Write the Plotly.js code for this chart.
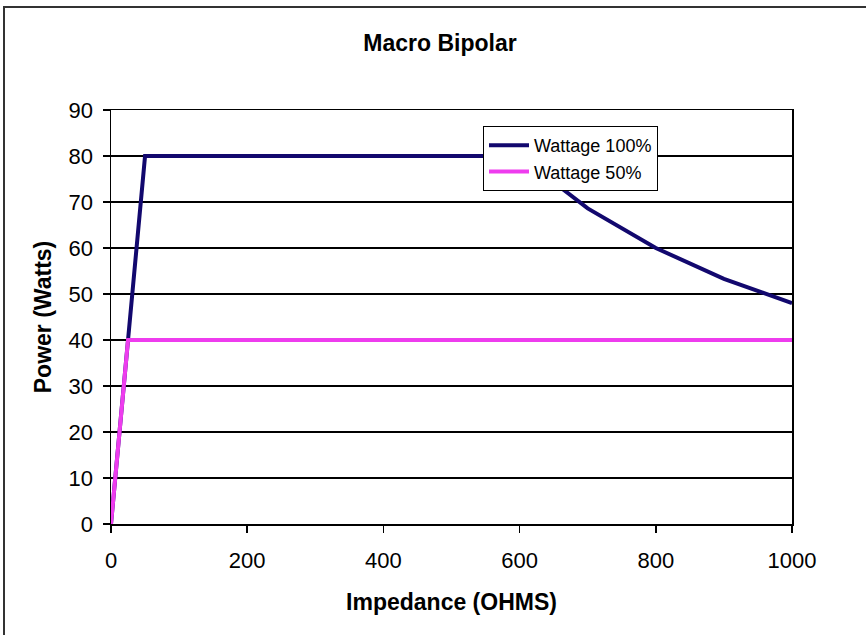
<!DOCTYPE html>
<html>
<head>
<meta charset="utf-8">
<script src="https://cdn.plot.ly/plotly-3.0.1.min.js"></script>
<style>
  html, body { margin: 0; padding: 0; background: #ffffff; }
  #wrap { position: relative; width: 866px; height: 635px; overflow: hidden; }
  #frame { position: absolute; left: 3px; top: 6px; width: 900px; height: 700px;
           border-left: 2px solid #333; border-top: 2px solid #333; box-sizing: border-box; }
  #chart { position: absolute; left: 0; top: 0; width: 866px; height: 635px; }
</style>
</head>
<body>
<div id="wrap">
  <div id="frame"></div>
  <div id="chart"></div>
</div>
<script>
// Data
const impedance100 = [0, 50, 100, 200, 300, 400, 500, 600, 700, 800, 900, 1000];
const power100     = [0, 80, 80, 80, 80, 80, 80, 80, 68.6, 60, 53.3, 48];
const impedance50  = [0, 25, 100, 200, 300, 400, 500, 600, 700, 800, 900, 1000];
const power50      = [0, 40, 40, 40, 40, 40, 40, 40, 40, 40, 40, 40];
const seriesNames  = ["Wattage 100%", "Wattage 50%"];
const xTicks = [0, 200, 400, 600, 800, 1000];
const yTicks = [0, 10, 20, 30, 40, 50, 60, 70, 80, 90];

const FONT = "Liberation Sans, Arial, sans-serif";

const traces = [
  { x: impedance100, y: power100, name: seriesNames[0], mode: "lines",
    line: { color: "#12086e", width: 4 } },
  { x: impedance50, y: power50, name: seriesNames[1], mode: "lines",
    line: { color: "#ee3cee", width: 4 } }
];

const layout = {
  width: 866, height: 635,
  paper_bgcolor: "rgba(0,0,0,0)", plot_bgcolor: "#ffffff",
  margin: { l: 111, r: 74, t: 110, b: 111 },
  showlegend: true,
  font: { family: FONT, color: "#000" },
  title: { text: "<b>Macro Bipolar</b>", font: { family: FONT, size: 23, color: "#000" },
           x: 440 / 866, xanchor: "center", xref: "container", y: 1 - 43 / 635, yanchor: "middle", yref: "container" },
  xaxis: {
    range: [0, 1000], tickvals: xTicks, ticktext: xTicks.map(String),
    showgrid: false, zeroline: false,
    showline: true, linecolor: "#000", linewidth: 1.5, mirror: true,
    ticks: "outside", ticklen: 7, tickwidth: 1.5, tickcolor: "#000",
    tickfont: { family: FONT, size: 22, color: "#000" },
    ticklabelstandoff: 9,
    title: { text: "<b>Impedance (OHMS)</b>", font: { family: FONT, size: 23, color: "#000" }, standoff: 22 },
    automargin: false
  },
  yaxis: {
    range: [0, 90], tickvals: yTicks, ticktext: yTicks.map(String),
    showgrid: true, gridcolor: "#000", gridwidth: 1.3, zeroline: false,
    showline: true, linecolor: "#000", linewidth: 1.5, mirror: true,
    ticks: "outside", ticklen: 7, tickwidth: 1.5, tickcolor: "#000",
    tickfont: { family: FONT, size: 22, color: "#000" },
    ticklabelstandoff: 5,
    title: { text: "<b>Power (Watts)</b>", font: { family: FONT, size: 23, color: "#000" }, standoff: 10 },
    automargin: false
  },
  legend: {
    x: (483 - 111) / 681, y: (524 - 126) / 414, xanchor: "left", yanchor: "top",
    bgcolor: "#ffffff", bordercolor: "#000", borderwidth: 1,
    font: { family: FONT, size: 18, color: "#000" },
    itemwidth: 40,
    tracegroupgap: 0
  }
};

Plotly.newPlot("chart", traces, layout, { displayModeBar: false, staticPlot: true });
</script>
</body>
</html>
